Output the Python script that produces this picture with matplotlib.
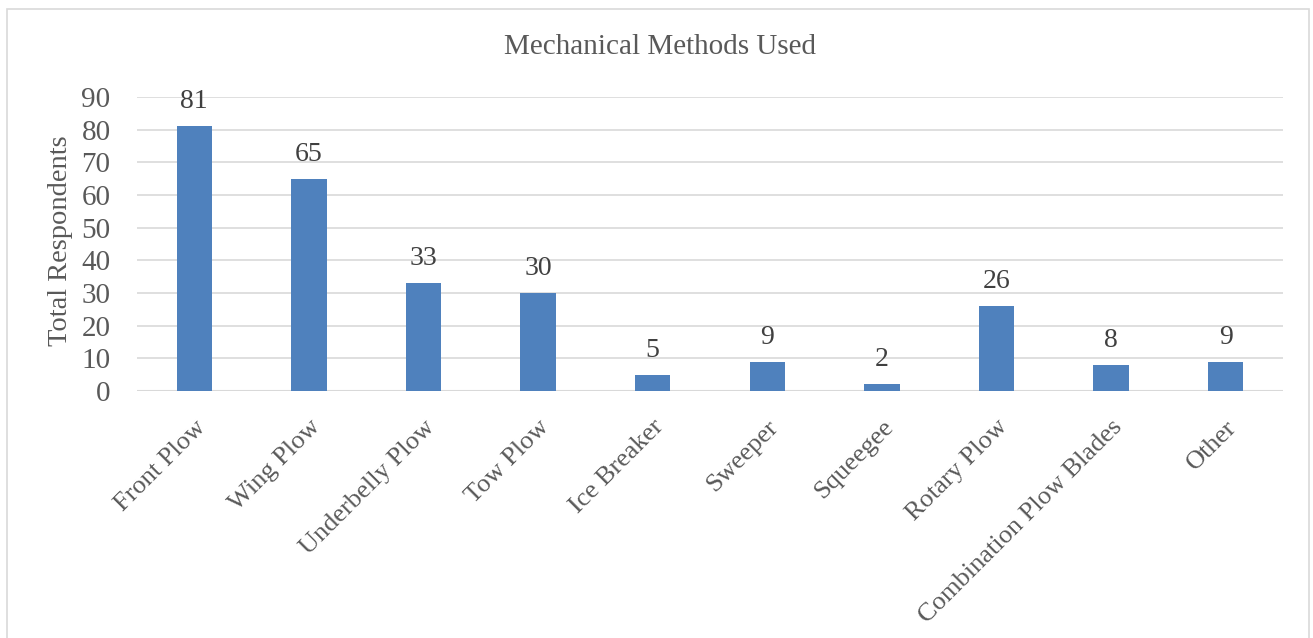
import matplotlib
matplotlib.use("Agg")
import matplotlib.pyplot as plt
from matplotlib.patches import Rectangle
import numpy as np

plt.rcParams["font.family"] = ["Liberation Serif", "DejaVu Serif"]

TITLE = "Mechanical Methods Used"
Y_LABEL = "Total Respondents"
categories = ["Front Plow", "Wing Plow", "Underbelly Plow", "Tow Plow", "Ice Breaker",
              "Sweeper", "Squeegee", "Rotary Plow", "Combination Plow Blades", "Other"]
values = [81, 65, 33, 30, 5, 9, 2, 26, 8, 9]
y_ticks = [0, 10, 20, 30, 40, 50, 60, 70, 80, 90]

BAR_COLOR = "#4F81BD"
TEXT_COLOR = "#595959"
GRID_COLOR = "#D9D9D9"

W, H = 1313, 638
fig = plt.figure(figsize=(W / 100, H / 100), dpi=100)
ax = fig.add_axes([137 / W, 1 - 391 / H, (1283 - 137) / W, (391 - 97) / H])

x = np.arange(len(categories))
ax.bar(x, values, width=0.31, color=BAR_COLOR, zorder=3)
for xi, v in zip(x, values):
    ax.annotate(str(v), (xi, v), xytext=(0, 13), textcoords="offset points",
                ha="center", va="baseline", fontsize=20, color="#404040")

ax.set_xlim(-0.5, len(categories) - 0.5)
ax.set_ylim(0, 90)
ax.set_yticks(y_ticks)
ax.set_yticklabels([str(t) for t in y_ticks], fontsize=21, color=TEXT_COLOR)
ax.set_xticks(x)
ax.set_xticklabels(categories, rotation=45, ha="right", rotation_mode="anchor",
                   fontsize=19, color=TEXT_COLOR)
ax.tick_params(length=0)
ax.tick_params(axis="y", pad=19)
ax.tick_params(axis="x", pad=18)
ax.yaxis.grid(True, color=GRID_COLOR, linewidth=1.2, zorder=0)
for s in ax.spines.values():
    s.set_visible(False)
ax.axhline(0, color=GRID_COLOR, linewidth=1.5, zorder=2)
ax.set_ylabel(Y_LABEL, fontsize=20.5, color=TEXT_COLOR)
ax.yaxis.set_label_coords((73 - 137) / (1283 - 137), 0.51)

fig.text(660 / W, 1 - 47 / H, TITLE, ha="center", va="center", fontsize=21, color=TEXT_COLOR)

fig.patches.append(Rectangle((7 / W, -0.02), (1309 - 7) / W, 1 - 9 / H + 0.02,
                             transform=fig.transFigure, fill=False,
                             edgecolor=GRID_COLOR, linewidth=1.2))

fig.savefig("out.png", dpi=100)
